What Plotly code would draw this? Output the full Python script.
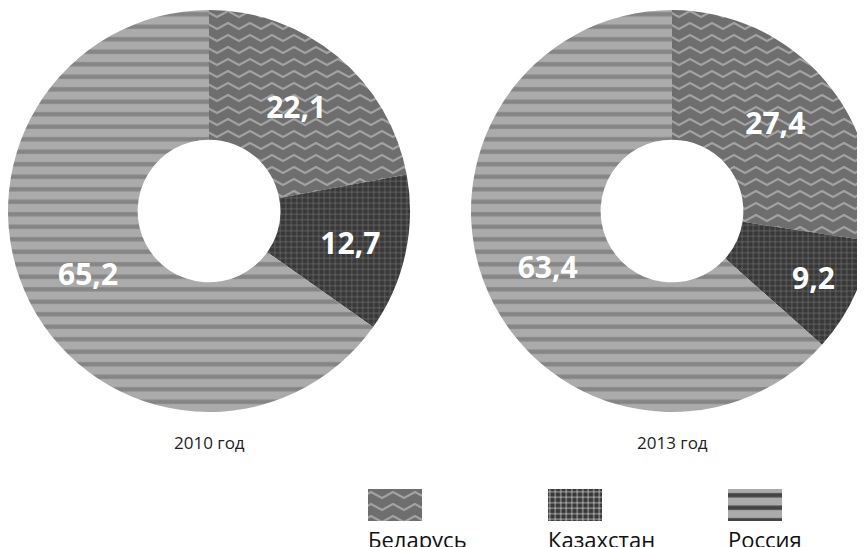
import plotly.graph_objects as go

countries = ["Беларусь", "Казахстан", "Россия"]
share_2010 = [22.1, 12.7, 65.2]
share_2013 = [27.4, 9.2, 63.4]
years = ["2010 год", "2013 год"]

# the page body has an 8px margin, so the figure coordinates are shifted by 8px
bg = ["#6e6e6e", "#383838", "#ababab"]
fg = ["#9c9c9c", "#7c7c7c", "#858585"]
pattern = dict(shape=["x", "+", "-"], fgcolor=fg, fgopacity=1,
               size=[14, 5.5, 12.5], solidity=[0.15, 0.2, 0.35], fillmode="overlay")

def donut(values, xdom):
    return go.Pie(
        labels=countries, values=values,
        domain=dict(x=xdom, y=[143 / 547, 545 / 547]),
        hole=0.355, sort=False, direction="clockwise", rotation=0,
        marker=dict(colors=bg, pattern=pattern, line=dict(width=0)),
        texttemplate="%{value:.1f}", textposition="inside",
        insidetextorientation="horizontal",
        textfont=dict(family="Open Sans", size=30, color="white", weight="bold"),
        showlegend=False, hoverinfo="label+value",
    )

fig = go.Figure()
fig.add_trace(donut(share_2010, [0 / 865, 402 / 865]))
fig.add_trace(donut(share_2013, [463 / 865, 865 / 865]))

# legend swatches
fig.add_trace(go.Bar(
    x=countries, y=[1, 1, 1], width=0.3,
    marker=dict(color=bg, pattern=pattern, line=dict(width=0)),
    showlegend=False, hoverinfo="skip",
))

fig.update_xaxes(domain=[297 / 865, 837 / 865], range=[-0.5, 2.5], visible=False)
fig.update_yaxes(domain=[34 / 547, 66 / 547], range=[0, 1], visible=False)

for name in countries:
    fig.add_annotation(x=name, xref="x", y=34 / 547, yref="paper", text=name,
                       xanchor="left", yanchor="top", xshift=-29, yshift=-1,
                       showarrow=False, font=dict(size=22, color="#111"))

for txt, cx in zip(years, [201 / 865, 664 / 865]):
    fig.add_annotation(x=cx, y=(547 - 434) / 547, xref="paper", yref="paper",
                       text=txt, showarrow=False, xanchor="center", yanchor="middle",
                       font=dict(size=17, color="#222"))

fig.update_layout(
    width=865, height=547,
    margin=dict(l=0, r=0, t=0, b=0),
    paper_bgcolor="white", plot_bgcolor="white",
    separators=", ",
    font=dict(family="Open Sans"),
)

# plotly has no zigzag fill, so the Belarus slices get an svg pattern
zigzag_js = """
var gd = document.getElementsByClassName('plotly-graph-div')[0];
var svg = gd.querySelector('svg.main-svg');
var ns = 'http://www.w3.org/2000/svg';
var defs = svg.querySelector('defs');
var p = document.createElementNS(ns, 'pattern');
p.setAttribute('id', 'zigzag');
p.setAttribute('patternUnits', 'userSpaceOnUse');
p.setAttribute('width', '22');
p.setAttribute('height', '12');
p.innerHTML = '<rect width="22" height="12" fill="#6e6e6e"/>' +
  '<path d="M-11,9 L0,3 L11,9 L22,3 L33,9" stroke="#a2a2a2" stroke-width="2" fill="none"/>';
defs.appendChild(p);
gd.querySelectorAll('.pielayer .trace').forEach(function (t) {
  var s = t.querySelector('.slice path.surface');
  if (s) s.style.fill = 'url(#zigzag)';
});
var b = gd.querySelector('.barlayer .point path');
if (b) b.style.fill = 'url(#zigzag)';
"""

fig.write_html("out.html", post_script=zigzag_js)
